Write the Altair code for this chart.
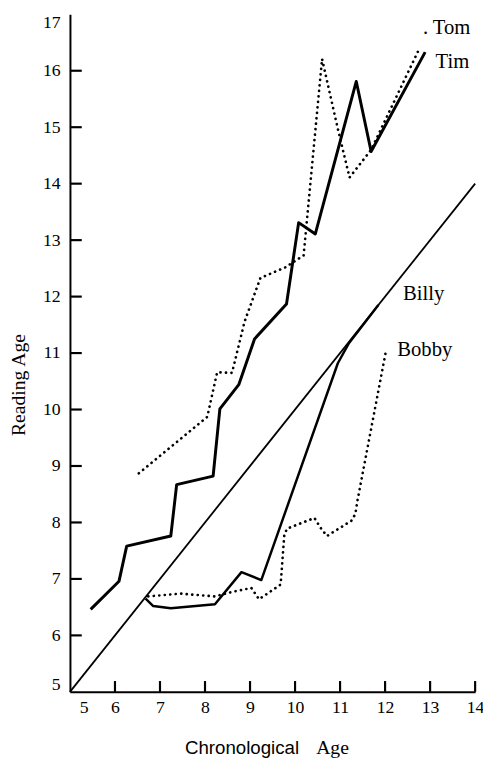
import altair as alt
import pandas as pd

# ---- data ----
x_ticks = [5, 6, 7, 8, 9, 10, 11, 12, 13, 14]
y_ticks = [5, 6, 7, 8, 9, 10, 11, 12, 13, 14, 15, 16, 17]

tim_x = [5.46, 6.09, 6.26, 7.24, 7.37, 8.18, 8.33, 8.75, 9.10, 9.81, 10.08, 10.45, 11.36, 11.69, 12.89]
tim_y = [6.46, 6.96, 7.58, 7.76, 8.67, 8.82, 10.01, 10.44, 11.25, 11.87, 13.31, 13.11, 15.81, 14.57, 16.33]

tom_x = [6.53, 8.05, 8.27, 8.60, 8.88, 9.23, 9.79, 10.19, 10.60, 10.95, 11.21, 11.69, 12.73]
tom_y = [8.87, 9.87, 10.66, 10.65, 11.56, 12.33, 12.52, 12.73, 16.21, 14.97, 14.11, 14.60, 16.34]

billy_x = [6.68, 6.85, 7.24, 8.22, 8.81, 9.25, 10.95, 11.20, 11.85]
billy_y = [6.65, 6.52, 6.48, 6.55, 7.12, 6.98, 10.82, 11.18, 11.85]

bobby_x = [6.74, 7.46, 8.22, 8.60, 9.03, 9.20, 9.68, 9.76, 9.82, 10.43, 10.58, 10.71, 11.25, 11.34, 11.38, 12.02]
bobby_y = [6.69, 6.74, 6.69, 6.77, 6.84, 6.64, 6.90, 7.77, 7.89, 8.08, 7.89, 7.76, 8.03, 8.15, 8.36, 11.04]

diag_x = [5, 14]
diag_y = [5, 14]

label_text = [". Tom", "Tim", "Billy", "Bobby"]
label_x = [12.84, 13.12, 12.40, 12.27]
label_y = [16.76, 16.15, 12.04, 11.06]

y_title = ["Reading Age"]
x_title_words = ["Chronological", "Age"]

# ---- build tables ----
rows = []
for name, xs, ys in [("Tim", tim_x, tim_y), ("Tom", tom_x, tom_y),
                     ("Billy", billy_x, billy_y), ("Bobby", bobby_x, bobby_y),
                     ("Diag", diag_x, diag_y)]:
    for i, (a, b) in enumerate(zip(xs, ys)):
        rows.append({"series": name, "x": a, "y": b, "i": i})
df = pd.DataFrame(rows)

xscale = alt.Scale(domain=[5, 14], nice=False, zero=False)
yscale = alt.Scale(domain=[5, 17], nice=False, zero=False)

xaxis = alt.Axis(values=x_ticks, format="d", title=None, ticks=False, tickSize=0,
                 grid=False, domainColor="black", domainWidth=2,
                 labelFont="Liberation Serif", labelFontSize=18, labelColor="black",
                 labelPadding=7, labelFlush=False,
                 labelOffset={"condition": {"test": "datum.value == 5", "value": 14}, "value": 0})
yaxis = alt.Axis(values=y_ticks, format="d", title=None, ticks=False, tickSize=0,
                 grid=False, domainColor="black", domainWidth=2,
                 labelFont="Liberation Serif", labelFontSize=18, labelColor="black",
                 labelPadding=10, labelFlush=False,
                 labelOffset={"condition": [{"test": "datum.value == 5", "value": -7},
                                            {"test": "datum.value == 17", "value": 8}],
                              "value": 0})


def X(f):
    return alt.X(f, type="quantitative", scale=xscale, axis=xaxis)


def Y(f):
    return alt.Y(f, type="quantitative", scale=yscale, axis=yaxis)


base = alt.Chart(df)

diag = base.transform_filter("datum.series == 'Diag'").mark_line(
    color="black", strokeWidth=1.8).encode(x=X("x"), y=Y("y"), order=alt.Order("i:Q"))

tim = base.transform_filter("datum.series == 'Tim'").mark_line(
    color="black", strokeWidth=3, strokeJoin="round").encode(
    x=X("x"), y=Y("y"), order=alt.Order("i:Q"))

billy = base.transform_filter("datum.series == 'Billy'").mark_line(
    color="black", strokeWidth=2.5, strokeJoin="round").encode(
    x=X("x"), y=Y("y"), order=alt.Order("i:Q"))

dotted = base.transform_filter("datum.series == 'Tom' || datum.series == 'Bobby'").mark_line(
    color="black", strokeWidth=2.7, strokeCap="round", strokeDash=[0.1, 5.5]).encode(
    x=X("x"), y=Y("y"), detail="series:N", order=alt.Order("i:Q"))

tick_df = pd.DataFrame({"v": x_ticks[1:]})
xticks = alt.Chart(tick_df).mark_rule(color="black", strokeWidth=2.2).encode(
    x=X("v"), y=alt.value(689), y2=alt.value(678))

ytick_df = pd.DataFrame({"w": y_ticks[1:-1]})
yticks = alt.Chart(ytick_df).mark_rule(color="black", strokeWidth=2.2).encode(
    y=Y("w"), x=alt.value(0), x2=alt.value(12))

lab_df = pd.DataFrame({"t": label_text, "x": label_x, "y": label_y})
labels = alt.Chart(lab_df).mark_text(
    align="left", baseline="middle", font="Liberation Serif", fontSize=21, color="black").encode(
    x=X("x"), y=Y("y"), text="t:N")

ytitle = alt.Chart(pd.DataFrame({"t": y_title})).mark_text(
    angle=270, align="center", baseline="middle", font="Liberation Serif",
    fontSize=20, color="black").encode(
    x=alt.value(-52), y=alt.value(377), text="t:N")

xt1 = alt.Chart(pd.DataFrame({"t": x_title_words[:1]})).mark_text(
    align="center", baseline="alphabetic", font="Liberation Sans",
    fontSize=19, color="black").encode(
    x=alt.value(175), y=alt.value(752), text="t:N")

xt2 = alt.Chart(pd.DataFrame({"t": x_title_words[1:]})).mark_text(
    align="center", baseline="alphabetic", font="Liberation Serif",
    fontSize=20, color="black").encode(
    x=alt.value(267), y=alt.value(752), text="t:N")

chart = alt.layer(diag, tim, billy, dotted, xticks, yticks, labels, ytitle, xt1, xt2).properties(
    width=412, height=689,
    autosize=alt.AutoSizeParams(type="none"),
    padding={"left": 63, "top": 0, "right": 8, "bottom": 68},
    background="white",
).configure_view(stroke=None)

chart.save("out.html", embed_options={"renderer": "svg", "actions": False})
